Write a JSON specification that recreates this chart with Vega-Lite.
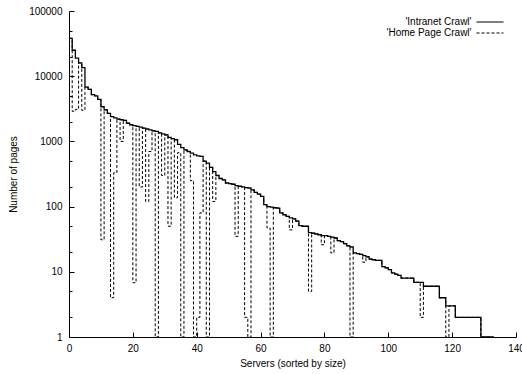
{
  "$schema": "https://vega.github.io/schema/vega-lite/v6.json",
  "width": 447,
  "height": 326,
  "autosize": "none",
  "padding": {"left": 69, "top": 11, "right": 6, "bottom": 37},
  "background": "white",
  "config": {
    "view": {"stroke": null},
    "font": "Liberation Sans",
    "axis": {
      "grid": false,
      "domainColor": "black",
      "tickColor": "black",
      "labelColor": "black",
      "titleColor": "black",
      "labelFontSize": 10,
      "titleFontSize": 10,
      "titleFontWeight": "normal",
      "labelFlush": false,
      "labelOverlap": false,
      "domainWidth": 1,
      "tickWidth": 1
    }
  },
  "datasets": {
    "intranet": [
      {"x":0,"y":38000,"s":"'Intranet Crawl'"},{"x":1,"y":25000,"s":"'Intranet Crawl'"},{"x":2,"y":19000,"s":"'Intranet Crawl'"},{"x":3,"y":16000,"s":"'Intranet Crawl'"},{"x":4,"y":13500,"s":"'Intranet Crawl'"},{"x":5,"y":6800,"s":"'Intranet Crawl'"},{"x":6,"y":6300,"s":"'Intranet Crawl'"},{"x":7,"y":5200,"s":"'Intranet Crawl'"},{"x":8,"y":5000,"s":"'Intranet Crawl'"},{"x":9,"y":4400,"s":"'Intranet Crawl'"},{"x":10,"y":3400,"s":"'Intranet Crawl'"},{"x":11,"y":3050,"s":"'Intranet Crawl'"},{"x":12,"y":2700,"s":"'Intranet Crawl'"},{"x":13,"y":2400,"s":"'Intranet Crawl'"},{"x":14,"y":2300,"s":"'Intranet Crawl'"},{"x":15,"y":2200,"s":"'Intranet Crawl'"},{"x":16,"y":2150,"s":"'Intranet Crawl'"},{"x":17,"y":2100,"s":"'Intranet Crawl'"},{"x":18,"y":1900,"s":"'Intranet Crawl'"},{"x":19,"y":1800,"s":"'Intranet Crawl'"},{"x":20,"y":1750,"s":"'Intranet Crawl'"},{"x":21,"y":1700,"s":"'Intranet Crawl'"},{"x":22,"y":1650,"s":"'Intranet Crawl'"},{"x":23,"y":1600,"s":"'Intranet Crawl'"},{"x":24,"y":1550,"s":"'Intranet Crawl'"},{"x":25,"y":1500,"s":"'Intranet Crawl'"},{"x":26,"y":1450,"s":"'Intranet Crawl'"},{"x":27,"y":1420,"s":"'Intranet Crawl'"},{"x":28,"y":1350,"s":"'Intranet Crawl'"},{"x":29,"y":1300,"s":"'Intranet Crawl'"},{"x":30,"y":1260,"s":"'Intranet Crawl'"},{"x":31,"y":1150,"s":"'Intranet Crawl'"},{"x":32,"y":1100,"s":"'Intranet Crawl'"},{"x":33,"y":1060,"s":"'Intranet Crawl'"},{"x":34,"y":900,"s":"'Intranet Crawl'"},{"x":35,"y":800,"s":"'Intranet Crawl'"},{"x":36,"y":740,"s":"'Intranet Crawl'"},{"x":37,"y":700,"s":"'Intranet Crawl'"},{"x":38,"y":660,"s":"'Intranet Crawl'"},{"x":39,"y":620,"s":"'Intranet Crawl'"},{"x":40,"y":600,"s":"'Intranet Crawl'"},{"x":41,"y":590,"s":"'Intranet Crawl'"},{"x":42,"y":500,"s":"'Intranet Crawl'"},{"x":43,"y":465,"s":"'Intranet Crawl'"},{"x":44,"y":400,"s":"'Intranet Crawl'"},{"x":45,"y":345,"s":"'Intranet Crawl'"},{"x":46,"y":300,"s":"'Intranet Crawl'"},{"x":47,"y":270,"s":"'Intranet Crawl'"},{"x":48,"y":257,"s":"'Intranet Crawl'"},{"x":49,"y":230,"s":"'Intranet Crawl'"},{"x":50,"y":225,"s":"'Intranet Crawl'"},{"x":51,"y":220,"s":"'Intranet Crawl'"},{"x":52,"y":210,"s":"'Intranet Crawl'"},{"x":53,"y":205,"s":"'Intranet Crawl'"},{"x":54,"y":200,"s":"'Intranet Crawl'"},{"x":55,"y":195,"s":"'Intranet Crawl'"},{"x":56,"y":193,"s":"'Intranet Crawl'"},{"x":57,"y":180,"s":"'Intranet Crawl'"},{"x":58,"y":165,"s":"'Intranet Crawl'"},{"x":59,"y":155,"s":"'Intranet Crawl'"},{"x":60,"y":143,"s":"'Intranet Crawl'"},{"x":61,"y":107,"s":"'Intranet Crawl'"},{"x":62,"y":100,"s":"'Intranet Crawl'"},{"x":63,"y":98,"s":"'Intranet Crawl'"},{"x":64,"y":96,"s":"'Intranet Crawl'"},{"x":65,"y":95,"s":"'Intranet Crawl'"},{"x":66,"y":80,"s":"'Intranet Crawl'"},{"x":67,"y":75,"s":"'Intranet Crawl'"},{"x":68,"y":71,"s":"'Intranet Crawl'"},{"x":69,"y":67,"s":"'Intranet Crawl'"},{"x":70,"y":65,"s":"'Intranet Crawl'"},{"x":71,"y":60,"s":"'Intranet Crawl'"},{"x":72,"y":51,"s":"'Intranet Crawl'"},{"x":73,"y":50,"s":"'Intranet Crawl'"},{"x":75,"y":40,"s":"'Intranet Crawl'"},{"x":76,"y":39,"s":"'Intranet Crawl'"},{"x":77,"y":38,"s":"'Intranet Crawl'"},{"x":78,"y":37,"s":"'Intranet Crawl'"},{"x":79,"y":36,"s":"'Intranet Crawl'"},{"x":81,"y":35,"s":"'Intranet Crawl'"},{"x":82,"y":34,"s":"'Intranet Crawl'"},{"x":83,"y":33,"s":"'Intranet Crawl'"},{"x":84,"y":30,"s":"'Intranet Crawl'"},{"x":85,"y":29,"s":"'Intranet Crawl'"},{"x":86,"y":27,"s":"'Intranet Crawl'"},{"x":87,"y":25,"s":"'Intranet Crawl'"},{"x":88,"y":24,"s":"'Intranet Crawl'"},{"x":89,"y":19.5,"s":"'Intranet Crawl'"},{"x":90,"y":19,"s":"'Intranet Crawl'"},{"x":91,"y":18.5,"s":"'Intranet Crawl'"},{"x":92,"y":17.7,"s":"'Intranet Crawl'"},{"x":93,"y":17,"s":"'Intranet Crawl'"},{"x":94,"y":15.7,"s":"'Intranet Crawl'"},{"x":95,"y":15.3,"s":"'Intranet Crawl'"},{"x":96,"y":15,"s":"'Intranet Crawl'"},{"x":98,"y":12,"s":"'Intranet Crawl'"},{"x":99,"y":11.5,"s":"'Intranet Crawl'"},{"x":100,"y":10.8,"s":"'Intranet Crawl'"},{"x":101,"y":9.6,"s":"'Intranet Crawl'"},{"x":102,"y":9.2,"s":"'Intranet Crawl'"},{"x":103,"y":8.8,"s":"'Intranet Crawl'"},{"x":104,"y":8,"s":"'Intranet Crawl'"},{"x":108,"y":6.9,"s":"'Intranet Crawl'"},{"x":111,"y":6,"s":"'Intranet Crawl'"},{"x":116,"y":4,"s":"'Intranet Crawl'"},{"x":118,"y":3,"s":"'Intranet Crawl'"},{"x":121,"y":2,"s":"'Intranet Crawl'"},{"x":129,"y":1,"s":"'Intranet Crawl'"},{"x":133,"y":1,"s":"'Intranet Crawl'"}
    ],
    "home": [
      {"x":0,"y":38000,"s":"'Home Page Crawl'"},{"x":1,"y":2900,"s":"'Home Page Crawl'"},{"x":2,"y":3100,"s":"'Home Page Crawl'"},{"x":3,"y":16000,"s":"'Home Page Crawl'"},{"x":4,"y":3000,"s":"'Home Page Crawl'"},{"x":5,"y":6800,"s":"'Home Page Crawl'"},{"x":6,"y":6300,"s":"'Home Page Crawl'"},{"x":7,"y":5200,"s":"'Home Page Crawl'"},{"x":8,"y":5000,"s":"'Home Page Crawl'"},{"x":9,"y":4400,"s":"'Home Page Crawl'"},{"x":10,"y":31,"s":"'Home Page Crawl'"},{"x":11,"y":3050,"s":"'Home Page Crawl'"},{"x":12,"y":2700,"s":"'Home Page Crawl'"},{"x":13,"y":4,"s":"'Home Page Crawl'"},{"x":14,"y":330,"s":"'Home Page Crawl'"},{"x":15,"y":2200,"s":"'Home Page Crawl'"},{"x":16,"y":1000,"s":"'Home Page Crawl'"},{"x":17,"y":2100,"s":"'Home Page Crawl'"},{"x":18,"y":1900,"s":"'Home Page Crawl'"},{"x":19,"y":1800,"s":"'Home Page Crawl'"},{"x":20,"y":6.8,"s":"'Home Page Crawl'"},{"x":21,"y":1700,"s":"'Home Page Crawl'"},{"x":22,"y":200,"s":"'Home Page Crawl'"},{"x":23,"y":1600,"s":"'Home Page Crawl'"},{"x":24,"y":120,"s":"'Home Page Crawl'"},{"x":25,"y":700,"s":"'Home Page Crawl'"},{"x":26,"y":1450,"s":"'Home Page Crawl'"},{"x":27,"y":1,"s":"'Home Page Crawl'"},{"x":28,"y":1350,"s":"'Home Page Crawl'"},{"x":29,"y":300,"s":"'Home Page Crawl'"},{"x":30,"y":1260,"s":"'Home Page Crawl'"},{"x":31,"y":50,"s":"'Home Page Crawl'"},{"x":32,"y":1100,"s":"'Home Page Crawl'"},{"x":33,"y":137,"s":"'Home Page Crawl'"},{"x":34,"y":670,"s":"'Home Page Crawl'"},{"x":35,"y":1,"s":"'Home Page Crawl'"},{"x":36,"y":740,"s":"'Home Page Crawl'"},{"x":37,"y":700,"s":"'Home Page Crawl'"},{"x":38,"y":250,"s":"'Home Page Crawl'"},{"x":39,"y":1,"s":"'Home Page Crawl'"},{"x":40,"y":2,"s":"'Home Page Crawl'"},{"x":41,"y":80,"s":"'Home Page Crawl'"},{"x":42,"y":500,"s":"'Home Page Crawl'"},{"x":43,"y":1,"s":"'Home Page Crawl'"},{"x":44,"y":400,"s":"'Home Page Crawl'"},{"x":45,"y":120,"s":"'Home Page Crawl'"},{"x":46,"y":300,"s":"'Home Page Crawl'"},{"x":47,"y":270,"s":"'Home Page Crawl'"},{"x":48,"y":257,"s":"'Home Page Crawl'"},{"x":49,"y":230,"s":"'Home Page Crawl'"},{"x":50,"y":225,"s":"'Home Page Crawl'"},{"x":51,"y":220,"s":"'Home Page Crawl'"},{"x":52,"y":35,"s":"'Home Page Crawl'"},{"x":53,"y":205,"s":"'Home Page Crawl'"},{"x":54,"y":200,"s":"'Home Page Crawl'"},{"x":55,"y":2,"s":"'Home Page Crawl'"},{"x":56,"y":1,"s":"'Home Page Crawl'"},{"x":57,"y":180,"s":"'Home Page Crawl'"},{"x":58,"y":165,"s":"'Home Page Crawl'"},{"x":59,"y":155,"s":"'Home Page Crawl'"},{"x":60,"y":143,"s":"'Home Page Crawl'"},{"x":61,"y":107,"s":"'Home Page Crawl'"},{"x":62,"y":47,"s":"'Home Page Crawl'"},{"x":63,"y":1,"s":"'Home Page Crawl'"},{"x":64,"y":96,"s":"'Home Page Crawl'"},{"x":65,"y":95,"s":"'Home Page Crawl'"},{"x":66,"y":80,"s":"'Home Page Crawl'"},{"x":67,"y":75,"s":"'Home Page Crawl'"},{"x":68,"y":71,"s":"'Home Page Crawl'"},{"x":69,"y":44,"s":"'Home Page Crawl'"},{"x":70,"y":65,"s":"'Home Page Crawl'"},{"x":71,"y":60,"s":"'Home Page Crawl'"},{"x":72,"y":51,"s":"'Home Page Crawl'"},{"x":73,"y":50,"s":"'Home Page Crawl'"},{"x":75,"y":5,"s":"'Home Page Crawl'"},{"x":76,"y":39,"s":"'Home Page Crawl'"},{"x":77,"y":38,"s":"'Home Page Crawl'"},{"x":78,"y":37,"s":"'Home Page Crawl'"},{"x":79,"y":26,"s":"'Home Page Crawl'"},{"x":80,"y":36,"s":"'Home Page Crawl'"},{"x":81,"y":35,"s":"'Home Page Crawl'"},{"x":82,"y":19.5,"s":"'Home Page Crawl'"},{"x":83,"y":33,"s":"'Home Page Crawl'"},{"x":84,"y":30,"s":"'Home Page Crawl'"},{"x":85,"y":29,"s":"'Home Page Crawl'"},{"x":86,"y":27,"s":"'Home Page Crawl'"},{"x":87,"y":25,"s":"'Home Page Crawl'"},{"x":88,"y":1,"s":"'Home Page Crawl'"},{"x":89,"y":19.5,"s":"'Home Page Crawl'"},{"x":90,"y":19,"s":"'Home Page Crawl'"},{"x":91,"y":18.5,"s":"'Home Page Crawl'"},{"x":92,"y":14,"s":"'Home Page Crawl'"},{"x":93,"y":17,"s":"'Home Page Crawl'"},{"x":94,"y":15.7,"s":"'Home Page Crawl'"},{"x":95,"y":15.3,"s":"'Home Page Crawl'"},{"x":96,"y":15,"s":"'Home Page Crawl'"},{"x":98,"y":12,"s":"'Home Page Crawl'"},{"x":99,"y":11.5,"s":"'Home Page Crawl'"},{"x":100,"y":10.8,"s":"'Home Page Crawl'"},{"x":101,"y":9.6,"s":"'Home Page Crawl'"},{"x":102,"y":9.2,"s":"'Home Page Crawl'"},{"x":103,"y":8.8,"s":"'Home Page Crawl'"},{"x":104,"y":8,"s":"'Home Page Crawl'"},{"x":108,"y":6.9,"s":"'Home Page Crawl'"},{"x":110,"y":2,"s":"'Home Page Crawl'"},{"x":111,"y":6,"s":"'Home Page Crawl'"},{"x":116,"y":4,"s":"'Home Page Crawl'"},{"x":118,"y":1,"s":"'Home Page Crawl'"},{"x":119,"y":3,"s":"'Home Page Crawl'"},{"x":121,"y":2,"s":"'Home Page Crawl'"},{"x":129,"y":1,"s":"'Home Page Crawl'"},{"x":133,"y":1,"s":"'Home Page Crawl'"}
    ]
  },
  "layer": [
    {
      "data": {"name": "intranet"},
      "mark": {"type": "line", "interpolate": "step-after", "color": "black", "strokeWidth": 1.3, "clip": true},
      "encoding": {
        "x": {
          "field": "x", "type": "quantitative",
          "scale": {"domain": [0, 140], "nice": false, "zero": false},
          "axis": {"values": [0, 20, 40, 60, 80, 100, 120, 140], "format": "d", "tickSize": -5, "labelPadding": 11, "title": "Servers (sorted by size)", "titlePadding": 5}
        },
        "y": {
          "field": "y", "type": "quantitative",
          "scale": {"type": "log", "domain": [1, 100000], "nice": false},
          "axis": {"orient": "left", "values": [1, 10, 100, 1000, 10000, 100000], "format": "d", "tickSize": -5, "labelPadding": 12, "title": "Number of pages", "titlePadding": 10}
        },
        "strokeDash": {
          "field": "s", "type": "nominal",
          "scale": {"domain": ["'Intranet Crawl'", "'Home Page Crawl'"], "range": [[1, 0], [3, 2]]},
          "legend": {
            "title": null, "orient": "none", "legendX": 415, "legendY": 5, "padding": 0,
            "labelAlign": "right", "labelOffset": -24.5, "labelFontSize": 10, "labelColor": "black",
            "symbolType": "M-2.7,0H2.7", "symbolSize": 100, "symbolStrokeColor": "black", "symbolStrokeWidth": 1.2,
            "symbolFillColor": "transparent",
            "rowPadding": -3
          }
        }
      }
    },
    {
      "data": {"name": "home"},
      "mark": {"type": "line", "interpolate": "step-after", "color": "black", "strokeWidth": 1, "clip": true},
      "encoding": {
        "x": {"field": "x", "type": "quantitative"},
        "y": {
          "field": "y", "type": "quantitative",
          "axis": {"orient": "left", "values": [2, 5, 20, 50, 200, 500, 2000, 5000, 20000, 50000], "labels": false, "domain": false, "tickSize": -3, "title": null}
        },
        "strokeDash": {"field": "s", "type": "nominal"}
      }
    }
  ],
  "resolve": {"axis": {"y": "independent"}}
}
